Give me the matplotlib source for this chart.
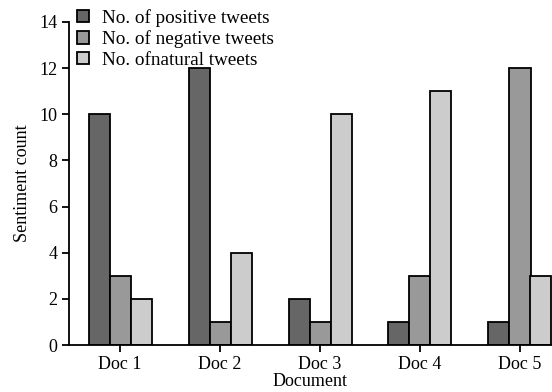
import matplotlib.pyplot as plt
import numpy as np

plt.rcParams['font.family'] = ['Liberation Serif', 'DejaVu Serif']

docs = ["Doc 1", "Doc 2", "Doc 3", "Doc 4", "Doc 5"]
positive = [10, 12, 2, 1, 1]
negative = [3, 1, 1, 3, 12]
natural = [2, 4, 10, 11, 3]

series = [
    ("No. of positive tweets", positive, "#666666"),
    ("No. of negative tweets", negative, "#999999"),
    ("No. ofnatural tweets", natural, "#cccccc"),
]

fig = plt.figure(figsize=(5.52, 3.92), dpi=100)
ax = fig.add_axes([69 / 552, 47 / 392, 1 - 69 / 552, (346 - 23) / 392])

x = np.arange(len(docs))
w = 0.21
for i, (name, vals, col) in enumerate(series):
    ax.bar(x + (i - 1) * w, vals, w, color=col, edgecolor="black",
           linewidth=1.3, label=name)

ax.set_xlim(-0.51, 4.32)
ax.set_ylim(0, 14)
ax.set_yticks(range(0, 15, 2))
ax.set_xticks(x)
ax.set_xticklabels(docs)
ax.tick_params(axis="both", labelsize=13, width=1.3, length=5, direction="out")
ax.tick_params(axis="x", pad=3)
ax.spines["top"].set_visible(False)
ax.spines["right"].set_visible(False)
ax.spines["left"].set_linewidth(1.3)
ax.spines["bottom"].set_linewidth(1.3)
ax.set_xlabel("Document", fontsize=13, labelpad=0)
ax.set_ylabel("Sentiment count", fontsize=13, labelpad=6)

fig.legend(loc="upper left", bbox_to_anchor=(64 / 552, 1.012), frameon=False,
           fontsize=13.8, handlelength=0.6, handleheight=0.6,
           handletextpad=0.7, labelspacing=0.2, borderpad=0.2)

plt.savefig("out.png", dpi=100)
